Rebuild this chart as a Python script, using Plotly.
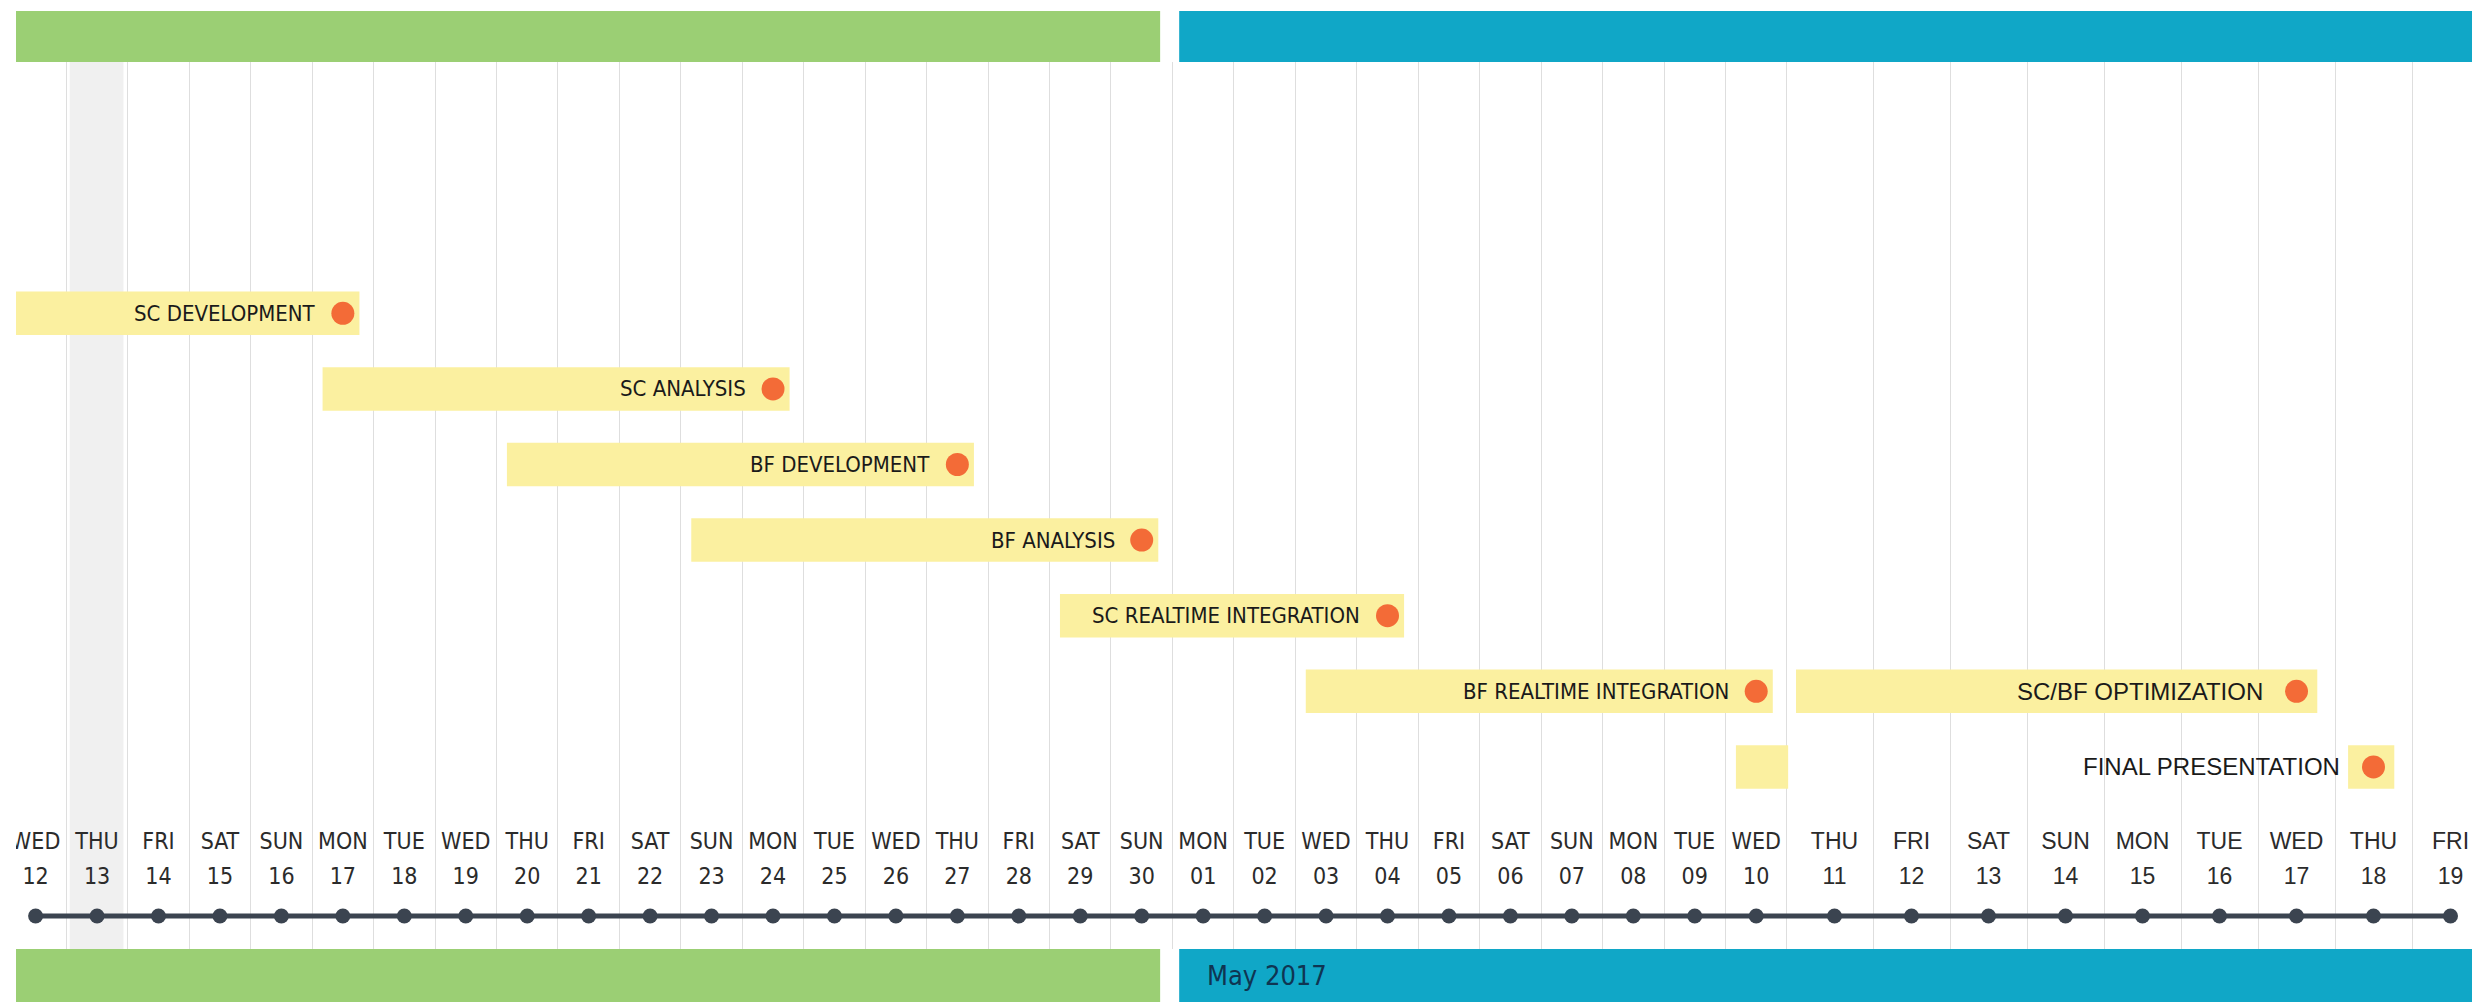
import plotly.graph_objects as go
import pandas as pd

# ---------------- data ----------------
task_names = ["SC DEVELOPMENT", "SC ANALYSIS", "BF DEVELOPMENT", "BF ANALYSIS",
              "SC REALTIME INTEGRATION", "BF REALTIME INTEGRATION",
              "SC/BF OPTIMIZATION", "", "FINAL PRESENTATION"]
task_start = ["2017-04-11", "2017-04-17", "2017-04-20", "2017-04-23", "2017-04-29",
              "2017-05-03", "2017-05-10", "2017-05-10", "2017-05-18"]
task_end = ["2017-04-17", "2017-04-24", "2017-04-27", "2017-04-30", "2017-05-04",
            "2017-05-10", "2017-05-17", "2017-05-10 06:00", "2017-05-18"]
task_row = [0, 1, 2, 3, 4, 5, 5, 6, 6]
task_milestone = [True, True, True, True, True, True, True, False, True]

day_first = "2017-04-12"
day_last = "2017-05-19"
highlight_day = "2017-04-13"
scale_break = "2017-05-11"   # from this day on the timeline is drawn wider

month_starts = ["2017-04-01", "2017-05-01"]
month_ends = ["2017-05-01", "2017-06-01"]
month_labels = ["", "May 2017"]
month_colors = ["#9BCF74", "#10A7C7"]

# ---------------- styles / layout constants ----------------
W, H = 2481, 1002
FONT_A = "Liberation Sans Narrow, DejaVu Sans Condensed, Liberation Sans, sans-serif"
FONT_B = "Liberation Sans, Arial, sans-serif"
BAR_COLOR = "#FBF0A0"
DOT_COLOR = "#F36B37"
AXIS_COLOR = "#3B4450"
GRID_COLOR = "#DEDEDE"
TEXT_COLOR = "#1A1A1A"
TICK_COLOR = "#2B2B2B"

DAY = pd.Timedelta(days=1)
days = pd.date_range(day_first, day_last, freq="D")
brk = pd.Timestamp(scale_break)

# x geometry (pixels)
A_PX = (16, 1796)
B_PX = (1796, 2472)
A_PX_PER_DAY = 61.45
B_PX_PER_DAY = 77.0
A_FIRST_CENTER_PX = 35.6

a_start = pd.Timestamp(day_first) + DAY / 2 - DAY * ((A_FIRST_CENTER_PX - A_PX[0]) / A_PX_PER_DAY)
a_end = a_start + DAY * ((A_PX[1] - A_PX[0]) / A_PX_PER_DAY)
b_start = brk
b_end = b_start + DAY * ((B_PX[1] - B_PX[0]) / B_PX_PER_DAY)

# y geometry (row units)
ROW0_PX = 313.3
ROW_PX = 75.6
Y_TOP_PX, Y_BOT_PX = 62, 949
y_range = [(Y_BOT_PX - ROW0_PX) / ROW_PX, (Y_TOP_PX - ROW0_PX) / ROW_PX]
WEEKDAY_Y = (843 - ROW0_PX) / ROW_PX
DAYNUM_Y = (878 - ROW0_PX) / ROW_PX
DOTLINE_Y = (916 - ROW0_PX) / ROW_PX
BAR_W = 0.575

START_PAD = 0.17   # days after midnight
END_PAD = 0.77
LABEL_GAP = 0.41   # days left of milestone centre

fig = go.Figure()

# ---------------- task bars ----------------
for axis in ("x", "x2"):
    bases, lens, rows = [], [], []
    for s, e, r in zip(task_start, task_end, task_row):
        s_ts = pd.Timestamp(s) + DAY * START_PAD
        e_ts = pd.Timestamp(e) + DAY * END_PAD
        on_b = pd.Timestamp(e) >= brk
        if (axis == "x2") == on_b:
            bases.append(s_ts)
            lens.append((e_ts - s_ts).total_seconds() * 1000)
            rows.append(r)
    fig.add_trace(go.Bar(orientation="h", base=bases, x=lens, y=rows, width=BAR_W,
                         marker=dict(color=BAR_COLOR, line=dict(width=0)),
                         xaxis=axis, yaxis="y", hoverinfo="skip"))

# ---------------- milestones + labels ----------------
for axis in ("x", "x2"):
    mx, my = [], []
    for name, e, r, m in zip(task_names, task_end, task_row, task_milestone):
        on_b = pd.Timestamp(e) >= brk
        if (axis == "x2") != on_b or not m:
            continue
        c = pd.Timestamp(e).normalize() + DAY / 2
        mx.append(c)
        my.append(r)
        fig.add_annotation(x=c - DAY * LABEL_GAP, y=r, xref=axis, yref="y",
                           text=name, showarrow=False, xanchor="right", yanchor="middle",
                           font=dict(family=FONT_A if axis == "x" else FONT_B,
                                     size=22 if axis == "x" else 24, color=TEXT_COLOR))
    fig.add_trace(go.Scatter(x=mx, y=my, mode="markers", xaxis=axis, yaxis="y",
                             marker=dict(size=23, color=DOT_COLOR, line=dict(width=0)),
                             hoverinfo="skip"))

# ---------------- day scale ----------------
for axis, sel, font in (("x", days < brk, FONT_A), ("x2", days >= brk, FONT_B)):
    d = days[sel]
    centers = d + DAY / 2
    fig.add_trace(go.Scatter(x=centers, y=[WEEKDAY_Y] * len(d), mode="text",
                             text=[x.strftime("%a").upper() for x in d],
                             textfont=dict(family=font, size=23, color=TICK_COLOR),
                             xaxis=axis, yaxis="y", hoverinfo="skip"))
    fig.add_trace(go.Scatter(x=centers, y=[DAYNUM_Y] * len(d), mode="text",
                             text=[x.strftime("%d") for x in d],
                             textfont=dict(family=font, size=23, color=TICK_COLOR),
                             xaxis=axis, yaxis="y", hoverinfo="skip"))
    # line with a point on every day; include the neighbour across the break
    if axis == "x":
        ld = days[days <= brk]
    else:
        ld = days[days >= brk - DAY]
    fig.add_trace(go.Scatter(x=ld + DAY / 2, y=[DOTLINE_Y] * len(ld), mode="lines+markers",
                             line=dict(color=AXIS_COLOR, width=5),
                             marker=dict(size=15, color=AXIS_COLOR),
                             xaxis=axis, yaxis="y", hoverinfo="skip"))

# ---------------- shapes ----------------
shapes = []
hd = pd.Timestamp(highlight_day)
shapes.append(dict(type="rect", xref="x", yref="y domain", x0=hd + DAY * 0.055,
                   x1=hd + DAY * 0.93, y0=0, y1=1, fillcolor="#F0F0F0",
                   line=dict(width=0), layer="below"))

GAP_END = 0.2
GAP_START = 0.11
top_band = (1 - 62 / H, 1 - 11 / H)
bot_band = (0, 1 - 949 / H)
segments = (("x", a_start, a_end), ("x2", b_start, b_end))
for ms, me, lab, col in zip(month_starts, month_ends, month_labels, month_colors):
    m0 = pd.Timestamp(ms) + DAY * GAP_START
    m1 = pd.Timestamp(me) - DAY * GAP_END
    first_seg = True
    for ax, s0, s1 in segments:
        x0, x1 = max(m0, s0), min(m1, s1)
        if x0 >= x1:
            continue
        for y0, y1 in (top_band, bot_band):
            shapes.append(dict(type="rect", xref=ax, yref="paper", x0=x0, x1=x1,
                               y0=y0, y1=y1, fillcolor=col, line=dict(width=0),
                               layer="above"))
        if lab and first_seg:
            fig.add_annotation(x=x0, y=(bot_band[0] + bot_band[1]) / 2, xref=ax, yref="paper",
                               text=lab, showarrow=False, xanchor="left", yanchor="middle",
                               xshift=26, font=dict(family=FONT_A, size=27, color="#0F3552"))
        first_seg = False

grid_a = pd.date_range(days[0], brk, freq="D")
grid_b = pd.date_range(brk, days[-1] + DAY, freq="D")

common_x = dict(type="date", showgrid=True, gridcolor=GRID_COLOR, gridwidth=1,
                showticklabels=False, ticks="", zeroline=False, showline=False,
                fixedrange=True)

fig.update_layout(
    width=W, height=H, margin=dict(l=0, r=0, t=0, b=0),
    paper_bgcolor="white", plot_bgcolor="white", showlegend=False,
    barmode="overlay", shapes=shapes,
    xaxis=dict(domain=[A_PX[0] / W, A_PX[1] / W], range=[a_start, a_end],
               tickvals=list(grid_a), anchor="y", **common_x),
    xaxis2=dict(domain=[B_PX[0] / W, B_PX[1] / W], range=[b_start, b_end],
                tickvals=list(grid_b), anchor="y", **common_x),
    yaxis=dict(domain=[1 - Y_BOT_PX / H, 1 - Y_TOP_PX / H], range=y_range,
               visible=False, fixedrange=True),
)

fig.write_html("out.html")
